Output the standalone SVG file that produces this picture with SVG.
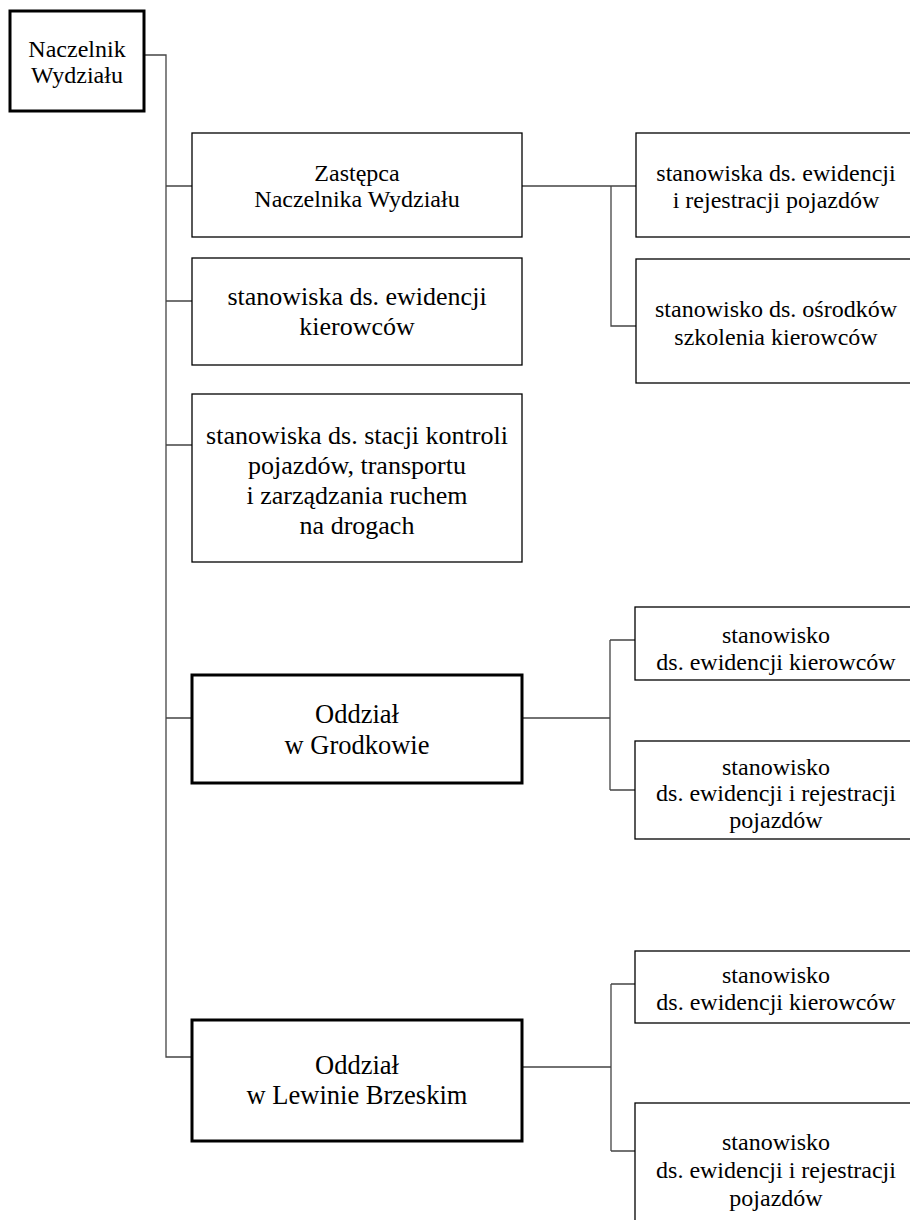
<svg xmlns="http://www.w3.org/2000/svg" width="910" height="1220" viewBox="0 0 910 1220">
<style>
.box{fill:#fff;stroke:#000;stroke-width:1.3}
.thick{fill:#fff;stroke:#000;stroke-width:3}
.c{fill:none;stroke:#444;stroke-width:1.3}
.f24{font-size:24px}
.f26{font-size:26px}
.f265{font-size:26.5px}
</style>
<rect width="910" height="1220" fill="#fff"/>
<g id="connectors">
<path class="c" d="M144,55 H166 V1057 H192"/>
<path class="c" d="M166,186 H192 M166,301 H192 M166,445 H192 M166,718 H192"/>
<path class="c" d="M522,186 H636 M611,186 V326 H636"/>
<path class="c" d="M522,718 H610 M610,640 V790 M610,640 H635 M610,790 H635"/>
<path class="c" d="M522,1067 H611 M611,984 V1151 M611,984 H635 M611,1151 H635"/>
</g>
<g font-family="'Liberation Serif', 'Times New Roman', 'DejaVu Serif', serif" text-anchor="middle" fill="#000">
<g id="naczelnik">
<rect class="thick" x="10" y="11" width="134" height="100"/>
<text class="f24" x="77" y="57">Naczelnik</text>
<text class="f24" x="77" y="83">Wydziału</text>
</g>
<g id="zastepca">
<rect class="box" x="192" y="133" width="330" height="104"/>
<text class="f24" x="357" y="181">Zastępca</text>
<text class="f24" x="357" y="207">Naczelnika Wydziału</text>
</g>
<g id="ewidencja-kierowcow">
<rect class="box" x="192" y="258" width="330" height="107"/>
<text class="f26" x="357" y="305">stanowiska ds. ewidencji</text>
<text class="f26" x="357" y="335">kierowców</text>
</g>
<g id="stacje-kontroli">
<rect class="box" x="192" y="394" width="330" height="168"/>
<text class="f26" x="357" y="444">stanowiska ds. stacji kontroli</text>
<text class="f26" x="357" y="474">pojazdów, transportu</text>
<text class="f26" x="357" y="504">i zarządzania ruchem</text>
<text class="f26" x="357" y="534">na drogach</text>
</g>
<g id="rejestracja-pojazdow">
<rect class="box" x="636" y="133" width="290" height="104"/>
<text class="f24" x="776" y="181">stanowiska ds. ewidencji</text>
<text class="f24" x="776" y="208">i rejestracji pojazdów</text>
</g>
<g id="osrodki-szkolenia">
<rect class="box" x="636" y="259" width="290" height="124"/>
<text class="f24" x="776" y="317">stanowisko ds. ośrodków</text>
<text class="f24" x="776" y="345">szkolenia kierowców</text>
</g>
<g id="oddzial-grodkow">
<rect class="thick" x="192" y="675" width="330" height="108"/>
<text class="f265" x="357" y="723">Oddział</text>
<text class="f265" x="357" y="754">w Grodkowie</text>
</g>
<g id="grodkow-kierowcy">
<rect class="box" x="635" y="607" width="290" height="73"/>
<text class="f24" x="776" y="643">stanowisko</text>
<text class="f24" x="776" y="670">ds. ewidencji kierowców</text>
</g>
<g id="grodkow-pojazdy">
<rect class="box" x="635" y="741" width="290" height="98"/>
<text class="f24" x="776" y="775">stanowisko</text>
<text class="f24" x="776" y="801">ds. ewidencji i rejestracji</text>
<text class="f24" x="776" y="828">pojazdów</text>
</g>
<g id="oddzial-lewin">
<rect class="thick" x="192" y="1020" width="330" height="121"/>
<text class="f265" x="357" y="1074">Oddział</text>
<text class="f265" x="357" y="1104">w Lewinie Brzeskim</text>
</g>
<g id="lewin-kierowcy">
<rect class="box" x="635" y="951" width="290" height="72"/>
<text class="f24" x="776" y="983">stanowisko</text>
<text class="f24" x="776" y="1010">ds. ewidencji kierowców</text>
</g>
<g id="lewin-pojazdy">
<rect class="box" x="635" y="1103" width="290" height="140"/>
<text class="f24" x="776" y="1150">stanowisko</text>
<text class="f24" x="776" y="1178">ds. ewidencji i rejestracji</text>
<text class="f24" x="776" y="1206">pojazdów</text>
</g>
</g>
</svg>
